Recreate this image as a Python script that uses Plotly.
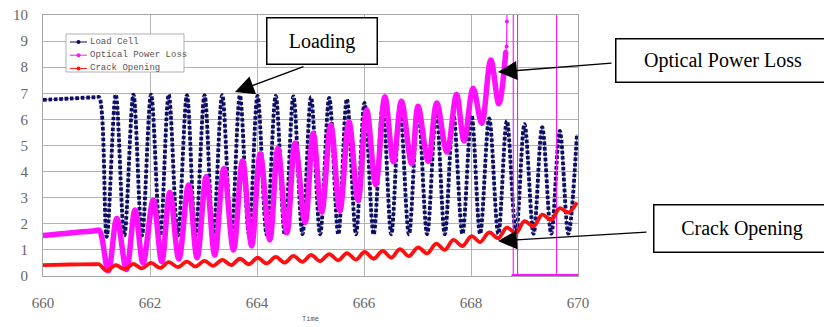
import plotly.graph_objects as go

# ---------------- data ----------------
x_ticks = [660, 662, 664, 666, 668, 670]
y_ticks = [0, 1, 2, 3, 4, 5, 6, 7, 8, 9, 10]
series_names = ["Load Cell", "Optical Power Loss", "Crack Opening"]

# Load Cell
load_flat_x = [660.0, 660.5, 661.0, 661.05]
load_flat_y = [6.75, 6.8, 6.85, 6.85]
load_peak_x = [661.36, 661.69, 662.02, 662.35, 662.69, 663.02, 663.35, 663.68, 664.01,
               664.35, 664.68, 665.01, 665.35, 665.68, 666.01, 666.35, 666.67, 667.01,
               667.35, 667.67, 668.01, 668.34, 668.67, 669.00, 669.33, 669.66, 669.98]
load_peak_y = [6.95, 6.95, 6.95, 6.95, 6.93, 6.93, 6.93, 6.92, 6.9,
               6.9, 6.88, 6.85, 6.82, 6.78, 6.63, 6.52, 6.45, 6.42,
               6.32, 6.2, 6.15, 6.04, 5.94, 5.82, 5.7, 5.56, 5.43]
load_trough_x = [661.19, 661.52, 661.85, 662.19, 662.52, 662.85, 663.18, 663.52, 663.85,
                 664.18, 664.52, 664.85, 665.18, 665.52, 665.85, 666.18, 666.51, 666.84,
                 667.18, 667.51, 667.84, 668.17, 668.51, 668.84, 669.17, 669.50, 669.82]
load_trough_y = [1.5, 1.55, 1.55, 1.55, 1.55, 1.55, 1.55, 1.55, 1.58,
                 1.58, 1.58, 1.6, 1.6, 1.6, 1.6, 1.6, 1.6, 1.6,
                 1.6, 1.6, 1.62, 1.62, 1.62, 1.62, 1.62, 1.62, 1.62]

# Optical Power Loss
opl_flat_x = [660.0, 660.5, 660.97, 661.05]
opl_flat_y = [1.55, 1.65, 1.73, 1.75]
opl_peak_x = [661.38, 661.72, 662.06, 662.37, 662.72, 663.05, 663.38, 663.73, 664.06,
              664.39, 664.71, 665.05, 665.38, 665.72, 666.05, 666.39, 666.70, 667.01,
              667.36, 667.73, 668.04, 668.37, 668.65]
opl_peak_y = [2.2, 2.53, 2.9, 3.2, 3.49, 3.8, 4.12, 4.42, 4.68,
              4.89, 5.1, 5.47, 5.79, 5.91, 6.36, 6.87, 6.7, 6.5,
              6.63, 6.95, 7.19, 8.28, 8.6]
opl_trough_x = [661.22, 661.56, 661.87, 662.22, 662.54, 662.88, 663.21, 663.56, 663.90,
                664.24, 664.56, 664.90, 665.21, 665.55, 665.89, 666.22, 666.55, 666.89,
                667.20, 667.55, 667.87, 668.20, 668.52]
opl_trough_y = [0.2, 0.25, 0.5, 0.55, 0.65, 0.7, 0.8, 1.0, 1.15,
                1.38, 1.65, 2.05, 2.45, 2.5, 2.9, 3.5, 4.38, 4.3,
                4.4, 4.75, 5.18, 5.85, 6.6]
# after failure: spike off-scale, then zero with off-scale glitches
opl_spike_x = [668.65, 668.665, 668.67, 668.69, 668.79, 668.79, 668.87, 668.87, 668.87,
               669.60, 669.60, 669.60, 670.0]
opl_spike_y = [8.6, 8.79, 9.75, 14.0, 14.0, 0.0, 0.0, 14.0, 0.0,
               0.0, 14.0, 0.0, 0.0]
opl_zero_x = [668.77, 670.0]
opl_zero_y = [0.0, 0.0]

# Crack Opening
crack_flat_x = [660.0, 660.5, 660.97, 661.05]
crack_flat_y = [0.42, 0.44, 0.45, 0.45]
crack_peak_x = load_peak_x
crack_peak_y = [0.42, 0.46, 0.5, 0.53, 0.55, 0.58, 0.62, 0.66, 0.7,
                0.73, 0.77, 0.81, 0.84, 0.88, 0.92, 0.96, 1.03, 1.1,
                1.24, 1.38, 1.53, 1.67, 1.85, 2.1, 2.35, 2.6, 2.82]
crack_trough_x = load_trough_x
crack_trough_y = [0.2, 0.26, 0.29, 0.31, 0.34, 0.36, 0.39, 0.42, 0.45,
                  0.48, 0.51, 0.54, 0.57, 0.6, 0.63, 0.66, 0.7, 0.76,
                  0.87, 1.0, 1.15, 1.3, 1.45, 1.65, 1.9, 2.15, 2.43]


def merge(*pairs):
    pts = []
    for xs, ys in pairs:
        pts += list(zip(xs, ys))
    pts.sort(key=lambda p: p[0])
    return [p[0] for p in pts], [p[1] for p in pts]


load_x, load_y = merge((load_flat_x, load_flat_y), (load_peak_x, load_peak_y),
                       (load_trough_x, load_trough_y))
opl_x, opl_y = merge((opl_flat_x, opl_flat_y), (opl_peak_x, opl_peak_y),
                     (opl_trough_x, opl_trough_y))
crack_x, crack_y = merge((crack_flat_x, crack_flat_y), (crack_peak_x, crack_peak_y),
                         (crack_trough_x, crack_trough_y))

NAVY = "#0c0c62"
MAG = "#ff10ff"
RED = "#ff1010"
colors = [NAVY, MAG, RED]

fig = go.Figure()
# Load cell: thin connecting line + dense dots
fig.add_trace(go.Scatter(x=load_x, y=load_y, mode="lines",
                         line=dict(color="#5c5ca8", width=0.8, shape="spline", smoothing=1.0),
                         hoverinfo="skip", showlegend=False))
fig.add_trace(go.Scatter(x=load_x, y=load_y, mode="lines", name=series_names[0],
                         line=dict(color=NAVY, width=3.8, shape="spline", smoothing=1.0, dash="3.6px,1.8px"),
                         showlegend=False))
# Optical power loss
fig.add_trace(go.Scatter(x=opl_x, y=opl_y, mode="lines", name=series_names[1],
                         line=dict(color=MAG, width=5.5, shape="spline", smoothing=1.0), showlegend=False))
fig.add_trace(go.Scatter(x=opl_spike_x, y=opl_spike_y, mode="lines+markers",
                         line=dict(color=MAG, width=1.1), marker=dict(color=MAG, size=4),
                         hoverinfo="skip", showlegend=False))
fig.add_trace(go.Scatter(x=opl_zero_x, y=opl_zero_y, mode="lines",
                         line=dict(color=MAG, width=4), hoverinfo="skip", showlegend=False))
# Crack opening
fig.add_trace(go.Scatter(x=crack_x, y=crack_y, mode="lines", name=series_names[2],
                         line=dict(color=RED, width=3.8, shape="spline", smoothing=1.0), showlegend=False))

# ---------------- layout ----------------
# page body has an 8px margin: figure drawn 8px right/down of window origin
OFF = 8
W, H = 832 - OFF, 327 - OFF
L, R, T, B = 43, 578, 15, 276  # plot area in window pixels


def px2x(px):
    return 660 + (px - L) / (R - L) * 10


def py2y(py):
    return (B - py) / (B - T) * 10


def pxp(px):
    return (px - L) / (R - L)


def pyp(py):
    return (B - py) / (B - T)


axis_common = dict(showgrid=True, gridcolor="#b2b2b2", gridwidth=1, zeroline=False, automargin=False,
                   showline=True, mirror=True, linecolor="#a6a6a6", linewidth=1, ticks="",
                   ticklabeloverflow="allow",
                   tickfont=dict(family="Liberation Serif", size=15, color="#666666"))

fig.update_layout(
    width=W, height=H,
    margin=dict(l=L - OFF, r=W - (R - OFF), t=T - OFF, b=H - (B - OFF), autoexpand=False),
    plot_bgcolor="white", paper_bgcolor="white",
    showlegend=False,
    xaxis=dict(range=[660, 670], tickvals=x_ticks, ticktext=[str(v) for v in x_ticks],
               ticklabelstandoff=13,
               title=dict(text="Time", font=dict(family="Liberation Mono", size=7, color="#555"), standoff=6),
               **axis_common),
    yaxis=dict(range=[0, 10], tickvals=y_ticks, ticktext=[str(v) for v in y_ticks],
               ticklabelstandoff=11, **axis_common),
)

# manual legend (compact, like the original)
shapes = [dict(type="rect", xref="paper", yref="paper", x0=pxp(66), x1=pxp(184), y0=pyp(72), y1=pyp(34),
               line=dict(color="#b0b0b0", width=1), fillcolor="white", layer="above")]
annotations = []
for i, (nm, col) in enumerate(zip(series_names, colors)):
    ypx = 42 + i * 13.2
    shapes.append(dict(type="line", xref="paper", yref="paper", x0=pxp(70), x1=pxp(87), y0=pyp(ypx), y1=pyp(ypx),
                       line=dict(color=col, width=1), layer="above"))
    shapes.append(dict(type="circle", xref="paper", yref="paper", xsizemode="pixel", ysizemode="pixel",
                       xanchor=pxp(78.5), yanchor=pyp(ypx), x0=-2, x1=2, y0=-2, y1=2,
                       fillcolor=col, line=dict(color=col, width=0), layer="above"))
    annotations.append(dict(xref="paper", yref="paper", x=pxp(88), y=pyp(ypx), xanchor="left", yanchor="middle",
                            text=nm, showarrow=False, font=dict(family="Liberation Mono", size=9, color="#555")))

# callout boxes
boxes = [("Loading", 322, 41, 109, 45), ("Optical Power Loss", 723, 60.5, 213, 42),
         ("Crack Opening", 742, 228.5, 175, 46)]
for txt, cx, cy, w, h in boxes:
    annotations.append(dict(xref="paper", yref="paper", x=pxp(cx), y=pyp(cy), xanchor="center", yanchor="middle",
                            text=txt, showarrow=False, width=w, height=h, borderpad=0, borderwidth=1.5,
                            bordercolor="black", bgcolor="white",
                            font=dict(family="Liberation Serif", size=20, color="black")))
# arrows
arrows = [((305, 66), (235, 92)), ((613, 63), (498, 72)), ((648, 232), (498, 241))]
for (sx, sy), (tx, ty) in arrows:
    annotations.append(dict(xref="x", yref="y", axref="x", ayref="y", x=px2x(tx), y=py2y(ty),
                            ax=px2x(sx), ay=py2y(sy), text="", showarrow=True, arrowhead=2,
                            arrowsize=2.7, arrowwidth=1.4, arrowcolor="black", standoff=0, startstandoff=0))

fig.update_layout(shapes=shapes, annotations=annotations)
fig.write_html("out.html")
